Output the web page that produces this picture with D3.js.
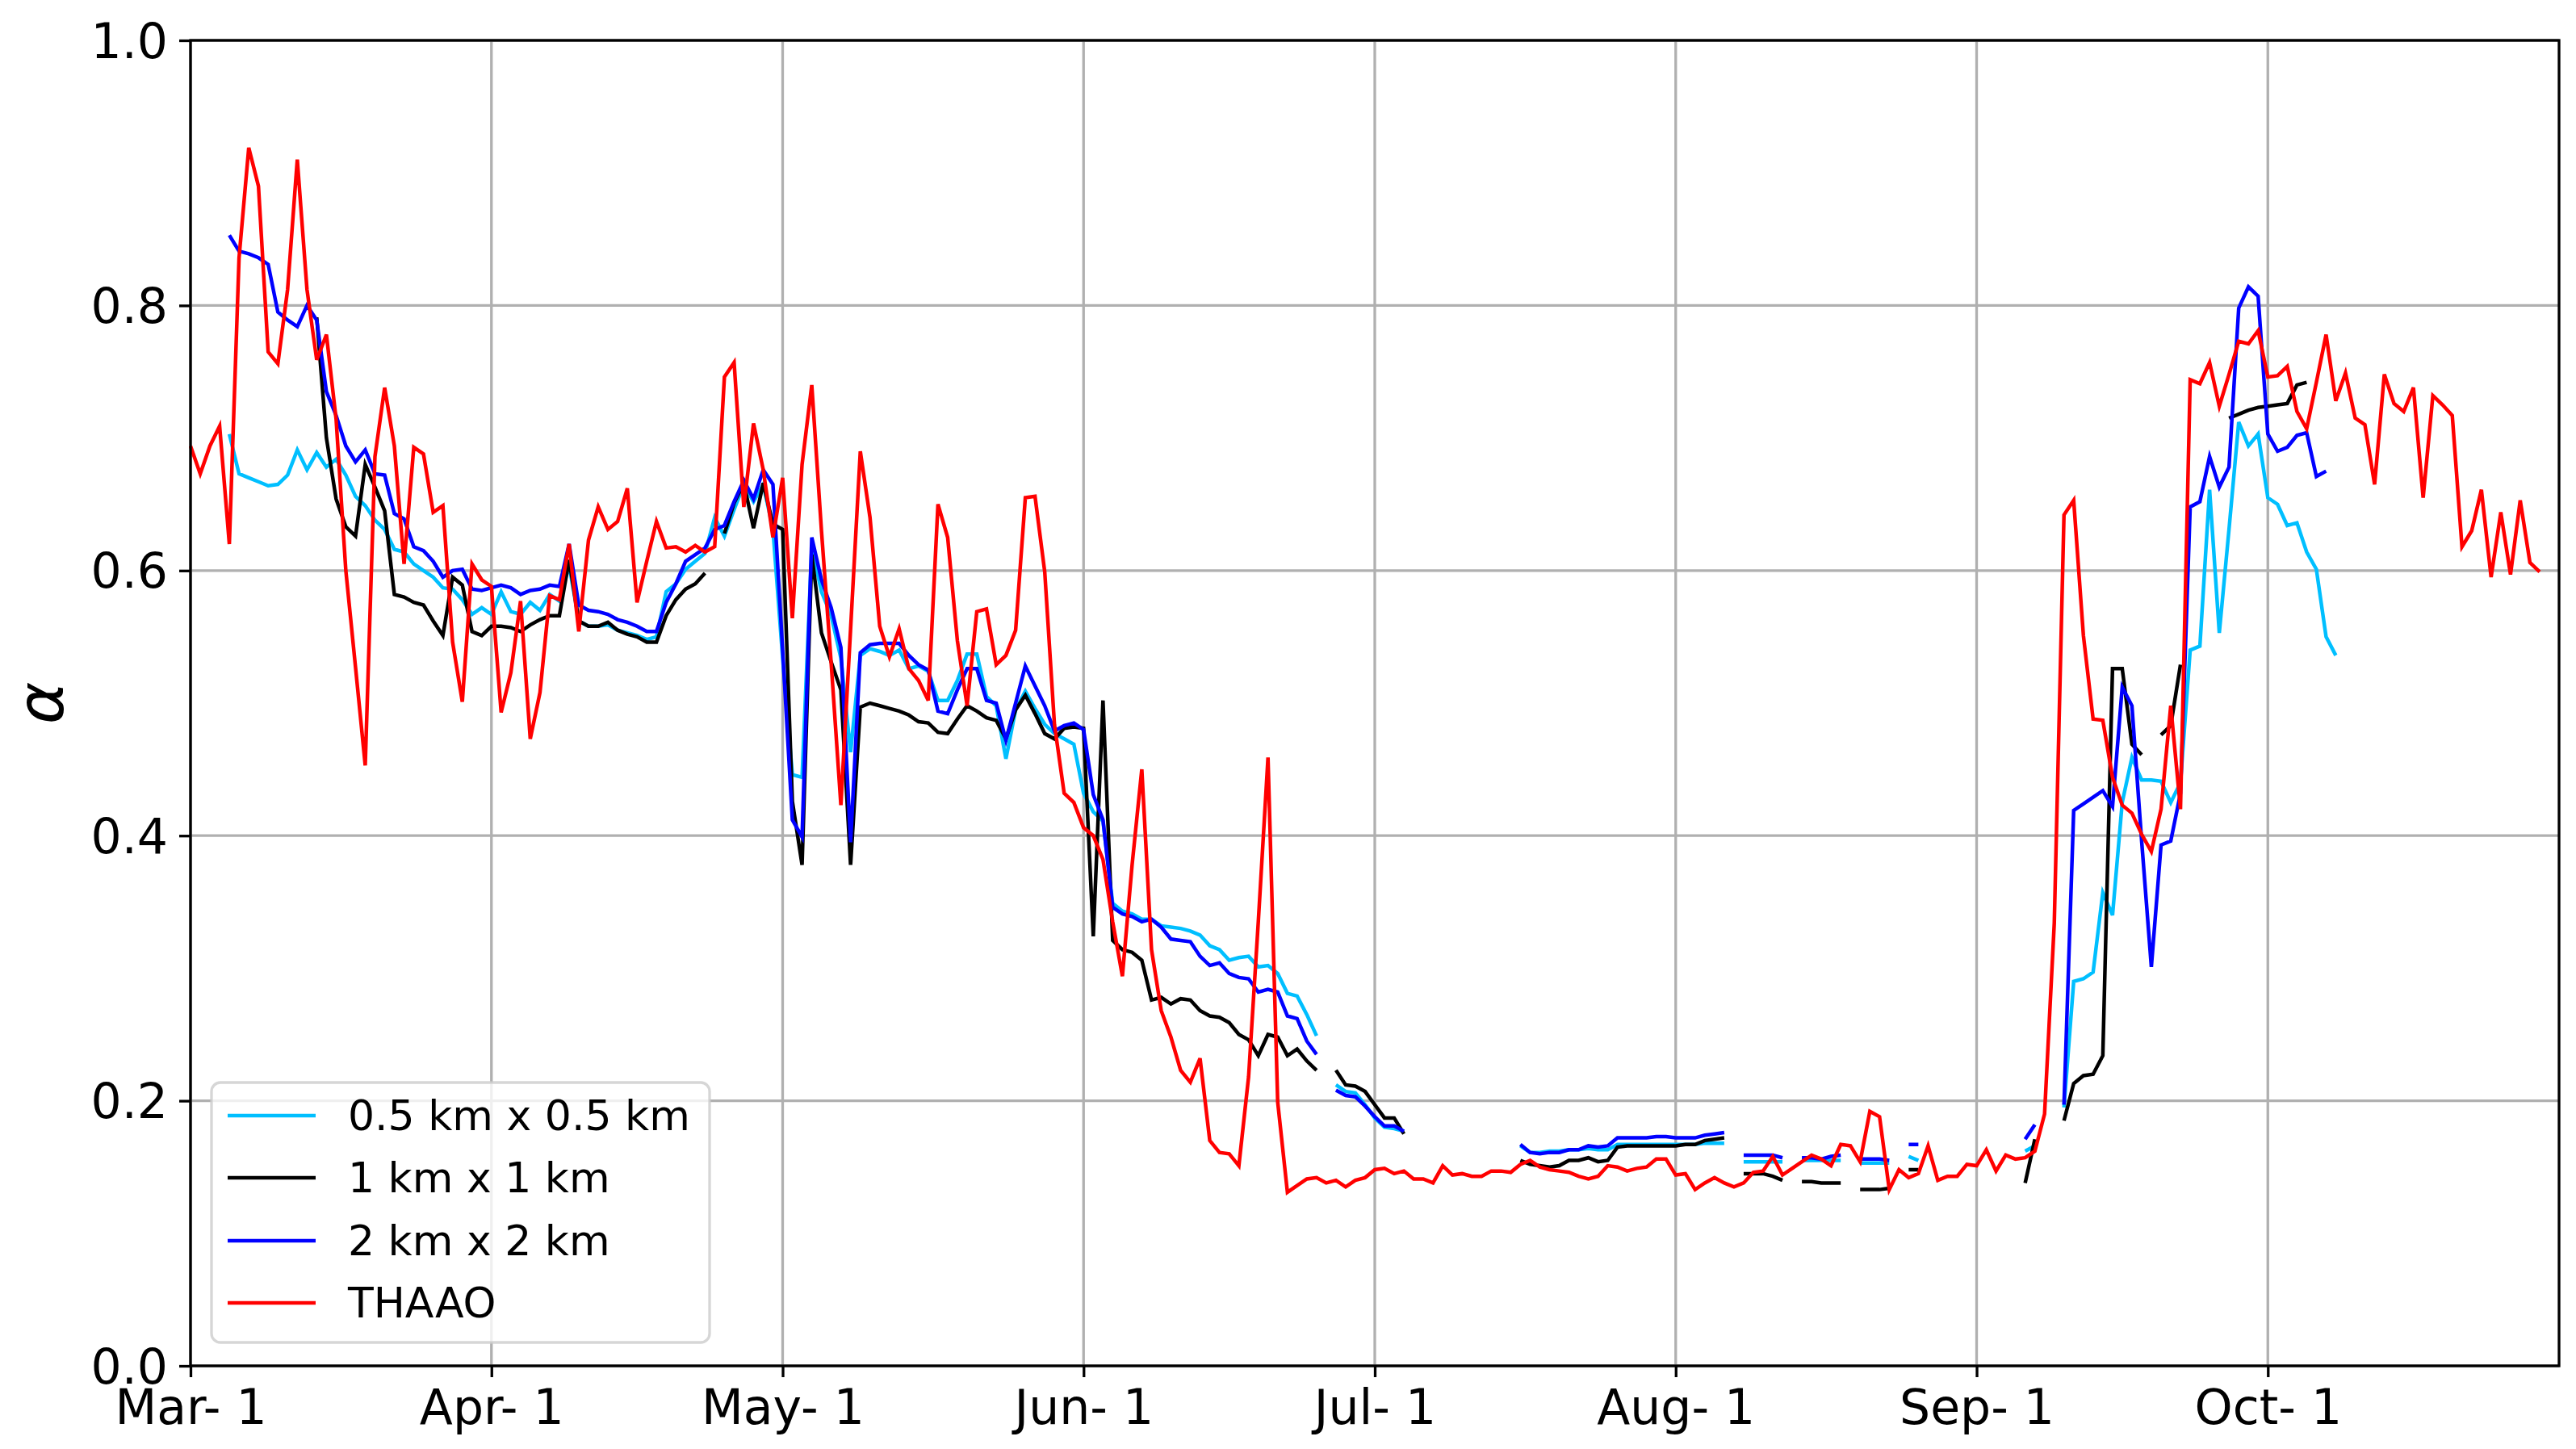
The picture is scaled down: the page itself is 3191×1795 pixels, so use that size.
<!DOCTYPE html>
<html>
<head>
<meta charset="utf-8">
<script src="https://cdn.jsdelivr.net/npm/d3@7"></script>
<style>
  body { margin: 0; background: #ffffff; }
  svg { display: block; }
  text { font-family: "DejaVu Sans", sans-serif; }
</style>
</head>
<body>
<svg id="chart" width="3191" height="1795"></svg>
<script>
// ---------------- DATA (daily values, index = days since 1 March) ----------------
const startDate = new Date(2021, 2, 1);
const endDayOffset = 244;

const seriesNames = ["0.5 km x 0.5 km", "1 km x 1 km", "2 km x 2 km", "THAAO"];

const yTickValues = [0.0, 0.2, 0.4, 0.6, 0.8, 1.0];
const yLabel = "α";

// THAAO
const thaao = [
  0.694,0.673,0.694,0.709,0.620,0.836,0.919,0.890,0.765,0.756,
  0.812,0.910,0.812,0.759,0.778,0.714,0.600,0.527,0.453,0.686,
  0.738,0.694,0.605,0.693,0.688,0.644,0.649,0.546,0.501,0.605,
  0.593,0.588,0.493,0.523,0.577,0.473,0.508,0.581,0.578,0.620,
  0.554,0.623,0.648,0.631,0.637,0.662,0.576,0.607,0.637,0.617,
  0.618,0.614,0.619,0.614,0.618,0.746,0.757,0.648,0.711,0.676,
  0.625,0.670,0.564,0.680,0.740,0.630,0.530,0.423,0.556,0.690,
  0.640,0.558,0.535,0.556,0.526,0.517,0.502,0.650,0.625,0.547,
  0.498,0.569,0.571,0.529,0.536,0.555,0.655,0.656,0.599,0.484,
  0.432,0.425,0.406,0.400,0.382,0.335,0.294,0.378,0.450,0.314,
  0.268,0.248,0.223,0.214,0.232,0.170,0.161,0.160,0.151,0.218,
  0.335,0.459,0.199,0.131,0.136,0.141,0.142,0.138,0.140,0.135,
  0.140,0.142,0.148,0.149,0.145,0.147,0.141,0.141,0.138,0.151,
  0.144,0.145,0.143,0.143,0.147,0.147,0.146,0.152,0.155,0.150,
  0.148,0.147,0.146,0.143,0.141,0.143,0.151,0.150,0.147,0.149,
  0.150,0.156,0.156,0.144,0.145,0.133,0.138,0.142,0.138,0.135,
  0.138,0.146,0.147,0.158,0.144,0.149,0.154,0.159,0.156,0.151,
  0.167,0.166,0.154,0.192,0.188,0.133,0.148,0.142,0.145,0.166,
  0.140,0.143,0.143,0.152,0.151,0.163,0.147,0.159,0.156,0.157,
  0.162,0.190,0.334,0.642,0.653,0.551,0.488,0.487,0.444,0.423,
  0.417,0.401,0.388,0.420,0.498,0.420,0.744,0.741,0.757,0.724,
  0.748,0.773,0.771,0.781,0.746,0.747,0.754,0.720,0.707,0.742,
  0.778,0.728,0.749,0.715,0.710,0.665,0.748,0.726,0.720,0.738,
  0.655,0.732,0.725,0.717,0.618,0.630,0.661,0.595,0.644,0.597,
  0.653,0.606,0.599
];

// 0.5 km x 0.5 km
const res05 = [
  null,null,null,null,0.703,0.673,0.670,0.667,0.664,0.665,
  0.672,0.691,0.676,0.689,0.678,0.684,0.672,0.656,0.649,0.638,
  0.631,0.616,0.614,0.605,0.600,0.595,0.587,0.586,0.578,0.567,
  0.572,0.567,0.584,0.569,0.567,0.576,0.570,0.582,0.577,0.604,
  0.562,0.558,0.558,0.559,0.555,0.553,0.551,0.548,0.550,0.584,
  0.590,0.601,0.607,0.613,0.640,0.626,0.646,0.665,0.652,0.665,
  0.631,0.534,0.446,0.444,0.618,0.584,0.566,0.534,0.463,0.536,
  0.541,0.539,0.536,0.540,0.526,0.528,0.524,0.502,0.502,0.517,
  0.537,0.537,0.505,0.498,0.458,0.495,0.509,0.496,0.484,0.477,
  0.473,0.469,0.432,0.418,0.411,0.349,0.343,0.341,0.337,0.337,
  0.332,0.331,0.330,0.328,0.325,0.317,0.314,0.306,0.308,0.309,
  0.301,0.302,0.296,0.281,0.279,0.265,0.249,null,0.212,0.207,
  0.206,0.197,0.187,0.180,0.179,0.177,null,null,null,null,
  null,null,null,null,null,null,null,0.166,0.161,0.161,
  0.162,0.162,0.163,0.163,0.164,0.163,0.163,0.167,0.167,0.167,
  0.167,0.167,0.167,0.167,0.167,0.167,0.168,0.168,0.168,null,
  0.154,0.154,0.154,0.154,0.154,null,0.155,0.155,0.155,0.155,
  0.155,null,0.153,0.153,0.153,0.153,null,0.158,0.155,null,
  null,null,null,null,null,null,null,null,null,0.162,
  0.166,null,null,0.195,0.290,0.292,0.297,0.357,0.340,0.425,
  0.459,0.442,0.442,0.441,0.425,0.440,0.540,0.543,0.661,0.553,
  0.631,0.712,0.694,0.703,0.655,0.650,0.634,0.636,0.614,0.601,
  0.550,0.536
];

// 1 km x 1 km
const res1 = [
  null,null,null,null,null,null,null,null,null,null,
  null,null,null,0.791,0.700,0.654,0.633,0.626,0.680,0.663,
  0.645,0.582,0.580,0.576,0.574,0.562,0.551,0.595,0.589,0.554,
  0.551,0.558,0.558,0.557,0.554,0.559,0.563,0.566,0.566,0.608,
  0.562,0.558,0.558,0.561,0.555,0.552,0.550,0.546,0.546,0.566,
  0.578,0.586,0.590,0.598,null,0.628,0.651,0.666,0.632,0.666,
  0.635,0.631,0.426,0.378,0.612,0.553,0.531,0.510,0.378,0.497,
  0.500,0.498,0.496,0.494,0.491,0.486,0.485,0.478,0.477,0.488,
  0.498,0.494,0.489,0.487,0.473,0.495,0.506,0.492,0.477,0.473,
  0.481,0.482,0.481,0.324,0.502,0.321,0.314,0.312,0.306,0.276,
  0.278,0.273,0.277,0.276,0.268,0.264,0.263,0.259,0.250,0.246,
  0.234,0.250,0.248,0.234,0.239,0.230,0.223,null,0.223,0.212,
  0.211,0.207,0.197,0.187,0.187,0.175,null,null,null,null,
  null,null,null,null,null,null,null,0.155,0.152,0.151,
  0.150,0.151,0.155,0.155,0.157,0.154,0.155,0.165,0.166,0.166,
  0.166,0.166,0.166,0.166,0.167,0.167,0.170,0.171,0.172,null,
  0.145,0.145,0.145,0.143,0.140,null,0.139,0.139,0.138,0.138,
  0.138,null,0.133,0.133,0.133,0.134,null,0.148,0.148,null,
  null,null,null,null,null,null,null,null,null,0.138,
  0.171,null,null,0.185,0.213,0.219,0.220,0.234,0.526,0.526,
  0.469,0.461,null,0.476,0.483,0.529,null,null,null,null,
  0.715,0.718,0.721,0.723,0.724,0.725,0.726,0.740,0.742
];

// 2 km x 2 km
const res2 = [
  null,null,null,null,0.853,0.841,0.839,0.836,0.831,0.795,
  0.789,0.784,0.800,0.789,0.735,0.717,0.694,0.682,0.691,0.673,
  0.672,0.643,0.639,0.618,0.615,0.607,0.595,0.600,0.601,0.586,
  0.585,0.587,0.589,0.587,0.582,0.585,0.586,0.589,0.588,0.620,
  0.574,0.570,0.569,0.567,0.563,0.561,0.558,0.554,0.554,0.576,
  0.590,0.607,0.612,0.617,0.631,0.634,0.652,0.668,0.654,0.676,
  0.665,0.540,0.412,0.399,0.625,0.593,0.572,0.542,0.395,0.538,
  0.544,0.545,0.545,0.545,0.536,0.529,0.525,0.494,0.492,0.510,
  0.526,0.526,0.502,0.500,0.472,0.500,0.528,0.513,0.498,0.479,
  0.483,0.485,0.480,0.431,0.412,0.346,0.341,0.339,0.335,0.337,
  0.331,0.322,0.321,0.320,0.309,0.302,0.304,0.296,0.293,0.292,
  0.282,0.284,0.282,0.264,0.262,0.245,0.235,null,0.208,0.204,
  0.203,0.196,0.188,0.181,0.181,0.177,null,null,null,null,
  null,null,null,null,null,null,null,0.167,0.161,0.160,
  0.161,0.161,0.163,0.163,0.166,0.165,0.166,0.172,0.172,0.172,
  0.172,0.173,0.173,0.172,0.172,0.172,0.174,0.175,0.176,null,
  0.159,0.159,0.159,0.159,0.157,null,0.157,0.157,0.156,0.158,
  0.159,null,0.156,0.156,0.156,0.155,null,0.167,0.167,null,
  null,null,null,null,null,null,null,null,null,0.171,
  0.182,null,null,0.197,0.419,0.424,0.429,0.434,0.422,0.512,
  0.498,0.396,0.301,0.393,0.396,0.432,0.648,0.652,0.686,0.663,
  0.678,0.798,0.814,0.807,0.703,0.690,0.693,0.702,0.704,0.671,
  0.675
];

const seriesValues = [res05, res1, res2, thaao];
const seriesColors = ["#00bfff", "#000000", "#0000ff", "#ff0000"];

// ---------------- LAYOUT ----------------
const plotLeft = 236, plotRight = 3170, plotTop = 50, plotBottom = 1692;
const svg = d3.select("#chart");

svg.append("rect").attr("width", 3191).attr("height", 1795).attr("fill", "#ffffff");

const x = d3.scaleTime()
  .domain([startDate, d3.timeDay.offset(startDate, endDayOffset)])
  .range([plotLeft, plotRight]);
const y = d3.scaleLinear().domain([0, 1]).range([plotBottom, plotTop]);

const monthTicks = d3.timeMonth.range(startDate, d3.timeDay.offset(startDate, endDayOffset));
const fmt = d3.timeFormat("%b- %-d");

// grid
const grid = svg.append("g");
grid.selectAll("line.vx").data(monthTicks).join("line")
  .attr("x1", d => x(d)).attr("x2", d => x(d))
  .attr("y1", plotTop).attr("y2", plotBottom)
  .attr("stroke", "#b0b0b0").attr("stroke-width", 3.3);
grid.selectAll("line.hy").data(yTickValues).join("line")
  .attr("x1", plotLeft).attr("x2", plotRight)
  .attr("y1", d => y(d)).attr("y2", d => y(d))
  .attr("stroke", "#b0b0b0").attr("stroke-width", 3.3);

// lines
const line = d3.line()
  .defined(d => d.v !== null)
  .x(d => x(d.date))
  .y(d => y(d.v));

seriesValues.forEach((vals, i) => {
  const pts = vals.map((v, k) => ({ date: d3.timeDay.offset(startDate, k), v: v }));
  svg.append("path")
    .datum(pts)
    .attr("d", line)
    .attr("fill", "none")
    .attr("stroke", seriesColors[i])
    .attr("stroke-width", 4.5)
    .attr("stroke-linejoin", "miter")
    .attr("stroke-miterlimit", 4)
    .attr("stroke-linecap", "butt");
});

// axes
const xAxis = d3.axisBottom(x).tickValues(monthTicks).tickFormat(fmt)
  .tickSize(14).tickPadding(15).tickSizeOuter(0);
const gx = svg.append("g").attr("transform", `translate(0,${plotBottom})`).call(xAxis);
gx.select(".domain").remove();
gx.selectAll(".tick line").attr("stroke", "#000").attr("stroke-width", 3.3);
gx.selectAll(".tick text").attr("font-size", 60).attr("fill", "#000")
  .attr("font-family", "DejaVu Sans, sans-serif");

const yAxis = d3.axisLeft(y).tickValues(yTickValues).tickFormat(d3.format(".1f"))
  .tickSize(14).tickPadding(14).tickSizeOuter(0);
const gy = svg.append("g").attr("transform", `translate(${plotLeft},0)`).call(yAxis);
gy.select(".domain").remove();
gy.selectAll(".tick line").attr("stroke", "#000").attr("stroke-width", 3.3);
gy.selectAll(".tick text").attr("font-size", 60).attr("fill", "#000")
  .attr("dy", "0.35em")
  .attr("font-family", "DejaVu Sans, sans-serif");

// frame
svg.append("rect")
  .attr("x", plotLeft).attr("y", plotTop)
  .attr("width", plotRight - plotLeft).attr("height", plotBottom - plotTop)
  .attr("fill", "none").attr("stroke", "#000").attr("stroke-width", 3.3);

// y label
svg.append("text")
  .attr("transform", `translate(78,${(plotTop + plotBottom) / 2}) rotate(-90)`)
  .attr("text-anchor", "middle")
  .attr("font-size", 80)
  .attr("font-style", "italic")
  .text(yLabel);

// legend
const lg = svg.append("g");
lg.append("rect")
  .attr("x", 262).attr("y", 1341).attr("width", 617).attr("height", 322)
  .attr("rx", 11).attr("ry", 11)
  .attr("fill", "#ffffff").attr("fill-opacity", 0.8)
  .attr("stroke", "#cccccc").attr("stroke-opacity", 0.8).attr("stroke-width", 3.3);
const rowY = [1382, 1459, 1537, 1614];
seriesNames.forEach((name, i) => {
  lg.append("line")
    .attr("x1", 282).attr("x2", 391)
    .attr("y1", rowY[i]).attr("y2", rowY[i])
    .attr("stroke", seriesColors[i]).attr("stroke-width", 4.5);
  lg.append("text")
    .attr("x", 431).attr("y", rowY[i] + 18)
    .attr("font-size", 52).attr("fill", "#000")
    .text(name);
});
</script>
</body>
</html>
